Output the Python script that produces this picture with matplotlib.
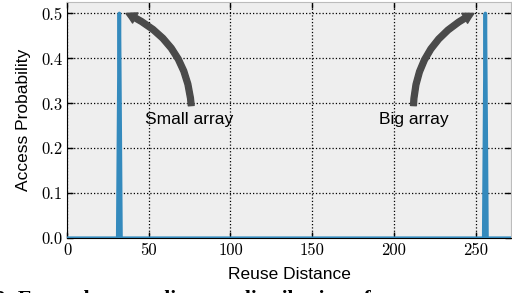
import numpy as np
import matplotlib
matplotlib.use('Agg')
import matplotlib.pyplot as plt

# reuse distance distribution: two spikes (small array / big array)
reuse_dist = [0, 31, 32, 33, 255, 256, 257, 275]
access_prob = [0.0, 0.0, 0.5, 0.0, 0.0, 0.5, 0.0, 0.0]

x_ticks = [0, 50, 100, 150, 200, 250]
y_ticks = [0.0, 0.1, 0.2, 0.3, 0.4, 0.5]

# annotations: label, text position, arrow start, arrow tip, curvature
notes = [('Small array', (75, 0.263), (76, 0.295), (36, 0.5), 0.3),
         ('Big array', (212, 0.263), (212, 0.295), (249, 0.5), -0.3)]

sans = 'Liberation Sans'

fig = plt.figure(figsize=[5.12, 2.93], dpi=100)
ax = fig.add_axes([0.131, 0.187, 0.868, 0.807])
ax.set_facecolor('#eeeeee')

ax.plot(reuse_dist, access_prob, color='#348ABD', lw=2.6, zorder=3)

ax.set_xlim(0, 272)
ax.set_ylim(0, 0.526)
ax.set_xticks(x_ticks)
ax.set_yticks(y_ticks)
ax.set_xticklabels([str(v) for v in x_ticks])
ax.set_yticklabels(['%.1f' % v for v in y_ticks])
for lab in ax.get_xticklabels() + ax.get_yticklabels():
    lab.set_fontfamily('cmr10')
    lab.set_fontsize(12)

ax.tick_params(direction='in', length=4, width=1, top=True, right=True, colors='black')
ax.grid(True, color='black', linestyle=':', linewidth=0.9)
ax.set_axisbelow(True)

for side in ['left', 'bottom']:
    ax.spines[side].set_color('black')
for side in ['top', 'right']:
    ax.spines[side].set_color('#bcbcbc')

ax.set_xlabel('Reuse Distance', fontsize=12.5, family=sans, labelpad=6)
ax.set_ylabel('Access Probability', fontsize=12.5, family=sans, labelpad=7)

for label, txt_pos, start, tip, rad in notes:
    ax.annotate('', xy=tip, xytext=start,
                arrowprops=dict(arrowstyle='simple,head_width=0.55,head_length=0.5,tail_width=0.28',
                                connectionstyle='arc3,rad=%.2f' % rad,
                                color='#4a4a4a', mutation_scale=15, shrinkA=0, shrinkB=0))
    ax.text(txt_pos[0], txt_pos[1], label, ha='center', va='center',
            fontsize=12.5, family=sans)

# caption of the paper, cut off by the bottom edge as in the original crop
fig.text(-0.09, -0.042, 'Fig. 3: Example reuse distance distribution of an access pattern.',
         ha='left', va='baseline', fontsize=15.5, fontweight='bold', family='Liberation Serif')

plt.savefig('out.png', dpi=100)
plt.close()
